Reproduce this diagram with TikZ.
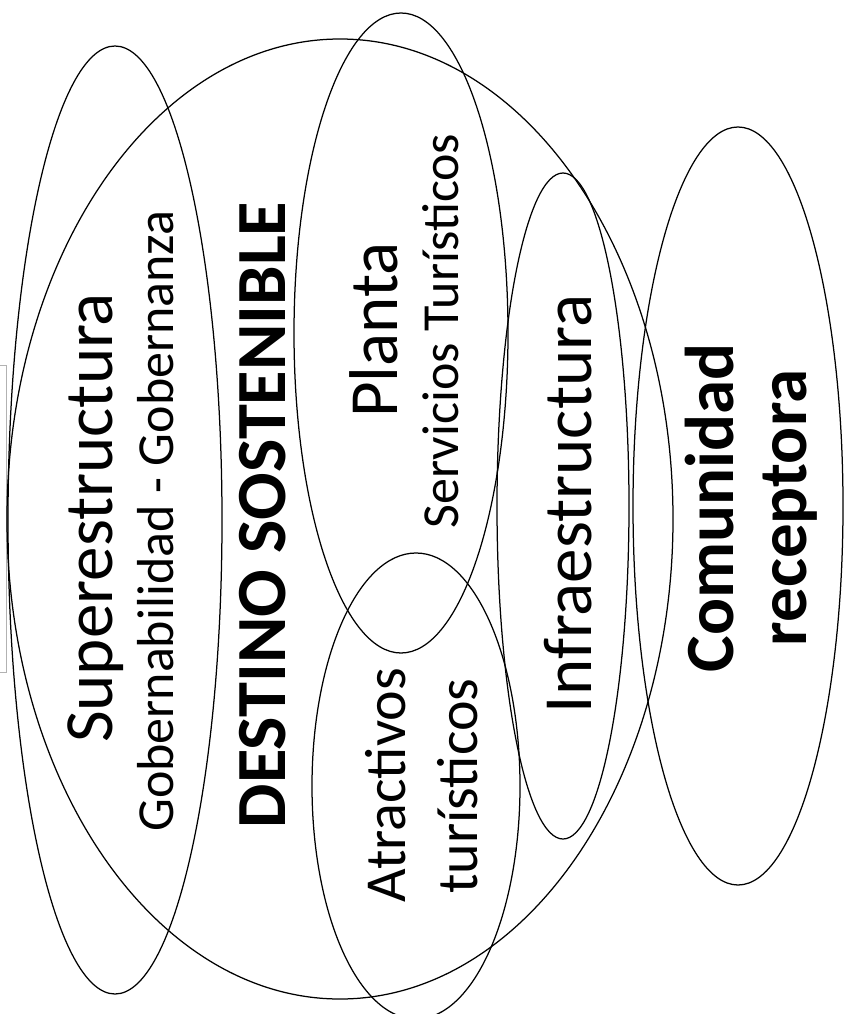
\documentclass[tikz,border=0pt]{standalone}
\usepackage{fontspec}
\setmainfont{Carlito}
\begin{document}
\begin{tikzpicture}[x=1pt,y=-1pt,
  ring/.style={draw=black, line width=1.25pt},
  lbl/.style={rotate=90, anchor=base, inner sep=0pt, text=black},
  bigtxt/.style={lbl, font=\fontsize{69}{80}\selectfont},
  bigbold/.style={lbl, font=\fontsize{69}{80}\selectfont\bfseries},
  destbold/.style={lbl, font=\fontsize{70.5}{80}\selectfont\bfseries},
  midtxt/.style={lbl, font=\fontsize{52}{60}\selectfont},
  atrtxt/.style={lbl, font=\fontsize{58}{68}\selectfont}]
\useasboundingbox (0,0) rectangle (850,1014);
% faint frame edge at left
\draw[gray!60, line width=0.6pt] (0,365) -- (6,365) -- (6,672) -- (0,672);
% ellipses
\draw[ring] (115,520) ellipse [x radius=107pt, y radius=474pt];
\draw[ring] (340,519) ellipse [x radius=333pt, y radius=480pt];
\draw[ring] (401,333) ellipse [x radius=107pt, y radius=320pt];
\draw[ring] (416,786) ellipse [x radius=104pt, y radius=233pt];
\draw[ring] (563,506) ellipse [x radius=66pt, y radius=333pt];
\draw[ring] (738,506) ellipse [x radius=105pt, y radius=379pt];
% labels
\node[bigtxt] (super) at (112,518) {Superestructura};
\node[midtxt] (gob) at (173,521) {Gobernabilidad - Gobernanza};
\node[destbold] (dest) at (285,515) {DESTINO SOSTENIBLE};
\node[bigtxt] (planta) at (397,330) {Planta};
\node[midtxt] (serv) at (458,331) {Servicios Turísticos};
\node[atrtxt] (atr1) at (405,785) {Atractivos};
\node[atrtxt] (atr2) at (477,786) {turísticos};
\node[bigtxt] (infra) at (591,504) {Infraestructura};
\node[bigbold] (com1) at (733,508) {Comunidad};
\node[bigbold] (com2) at (806,508) {receptora};
\end{tikzpicture}
\end{document}
